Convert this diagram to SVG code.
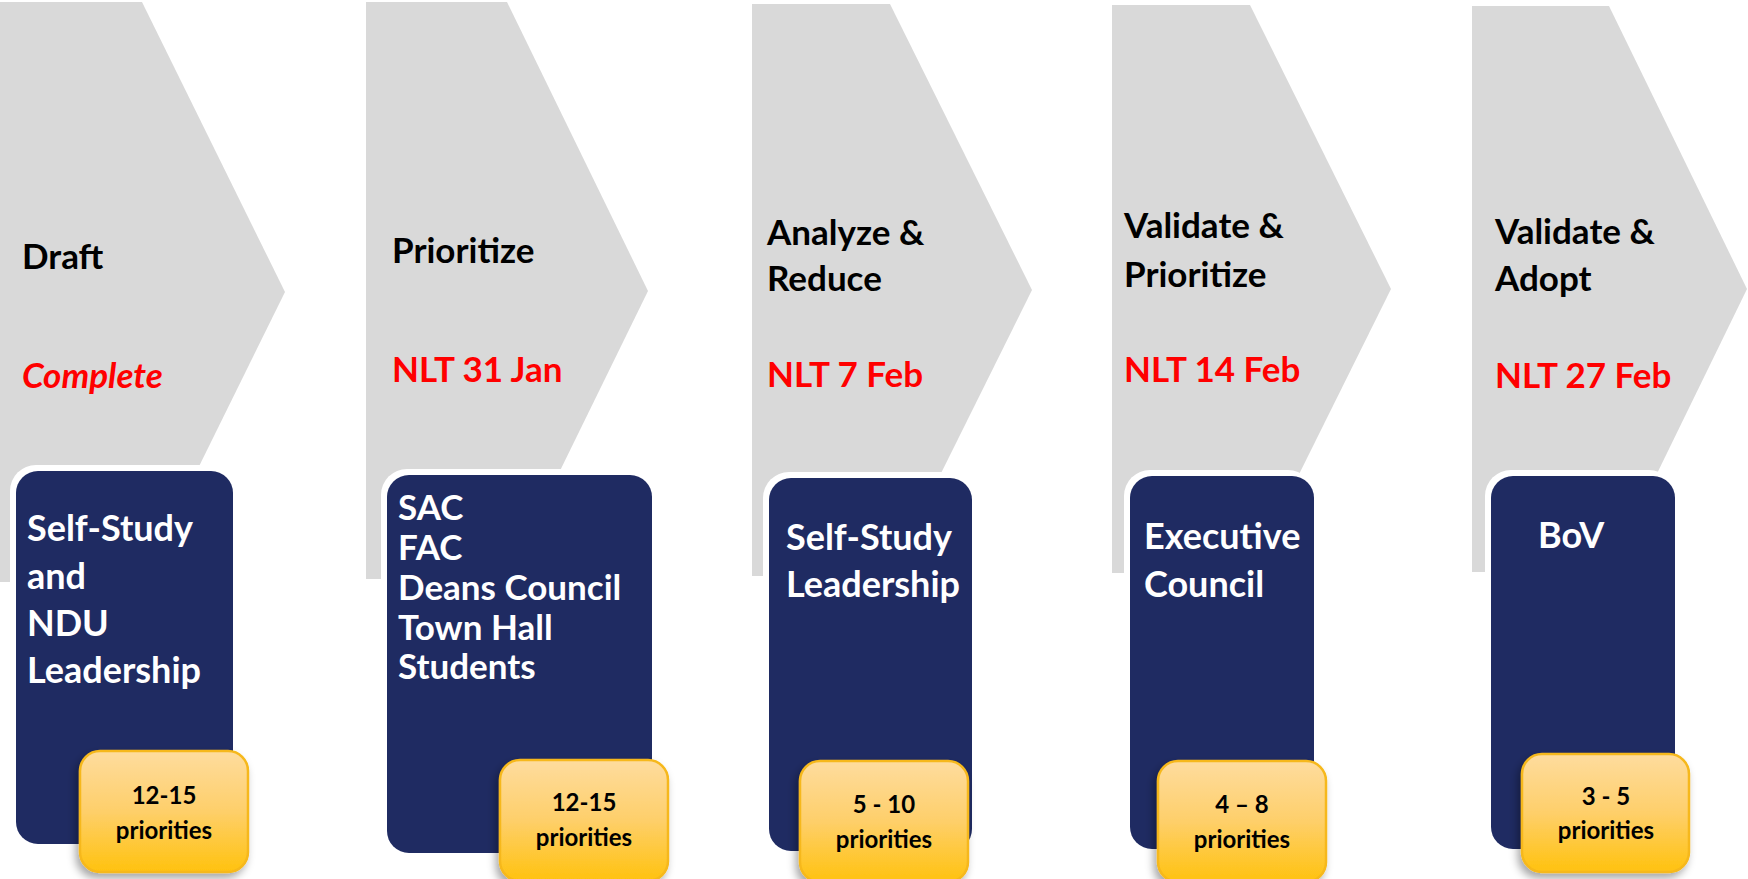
<svg xmlns="http://www.w3.org/2000/svg" width="1748" height="879" viewBox="0 0 1748 879">
<style>
.chev{fill:#d9d9d9}
.halo{fill:#ffffff}
.blue{fill:#1f2b62}
.yel{fill:url(#yg);stroke:#f6b81a;stroke-width:2.5;filter:url(#sh)}
.h{font-family:Lato,"Open Sans",sans-serif;font-weight:700;font-size:35px;fill:#000}
.d{font-family:Lato,"Open Sans",sans-serif;font-weight:700;font-size:35px;fill:#ff0000}
.w{font-family:Lato,"Open Sans",sans-serif;font-weight:700;font-size:36px;fill:#ffffff}
.w2{font-family:Lato,"Open Sans",sans-serif;font-weight:700;font-size:35px;fill:#ffffff}
.y{font-family:Lato,"Open Sans",sans-serif;font-weight:700;font-size:24px;fill:#000;text-anchor:middle}
</style>
<defs>
<linearGradient id="yg" x1="0" y1="0" x2="0" y2="1">
<stop offset="0" stop-color="#fedc9e"/>
<stop offset="0.5" stop-color="#fecf6a"/>
<stop offset="1" stop-color="#ffc20e"/>
</linearGradient>
<filter id="sh" x="-20%" y="-20%" width="140%" height="150%">
<feDropShadow dx="-3" dy="5" stdDeviation="4" flood-color="#000" flood-opacity="0.35"/>
</filter>
</defs>
<rect width="1748" height="879" fill="#ffffff"/>
<g id="connectors"/>
<g id="phase1">
<polygon class="chev" points="0,2 142,2 285,292 142,582 0,582"/>
<rect class="halo" x="10" y="465" width="223" height="379" rx="26"/>
<rect class="blue" x="16" y="471" width="217" height="373" rx="22"/>
<text class="h" x="22" y="269">Draft</text>
<text class="d" x="22" y="388" font-style="italic">Complete</text>
<text class="w" x="27" y="541">Self-Study</text>
<text class="w" x="27" y="589">and</text>
<text class="w" x="27" y="636">NDU</text>
<text class="w" x="27" y="683">Leadership</text>
<rect class="yel" x="80" y="751" width="168" height="121" rx="20"/>
<text class="y" x="164" y="804">12-15</text>
<text class="y" x="164" y="839">priorities</text>
</g>
<g id="phase2">
<polygon class="chev" points="366,2 507,2 648,291 507,579 366,579"/>
<rect class="halo" x="381" y="469" width="271" height="384" rx="26"/>
<rect class="blue" x="387" y="475" width="265" height="378" rx="22"/>
<text class="h" x="392" y="263">Prioritize</text>
<text class="d" x="392" y="382">NLT 31 Jan</text>
<text class="w2" x="398" y="520">SAC</text>
<text class="w2" x="398" y="560">FAC</text>
<text class="w2" x="398" y="600">Deans Council</text>
<text class="w2" x="398" y="640">Town Hall</text>
<text class="w2" x="398" y="679">Students</text>
<rect class="yel" x="500" y="760" width="168" height="121" rx="20"/>
<text class="y" x="584" y="811">12-15</text>
<text class="y" x="584" y="846">priorities</text>
</g>
<g id="phase3">
<polygon class="chev" points="752,4 890,4 1032,290 890,576 752,576"/>
<rect class="halo" x="763" y="472" width="209" height="379" rx="26"/>
<rect class="blue" x="769" y="478" width="203" height="373" rx="22"/>
<text class="h" x="767" y="245">Analyze &amp;</text>
<text class="h" x="767" y="291">Reduce</text>
<text class="d" x="767" y="387">NLT 7 Feb</text>
<text class="w" x="786" y="550">Self-Study</text>
<text class="w" x="786" y="597">Leadership</text>
<rect class="yel" x="800" y="761" width="168" height="121" rx="20"/>
<text class="y" x="884" y="813">5 - 10</text>
<text class="y" x="884" y="848">priorities</text>
</g>
<g id="phase4">
<polygon class="chev" points="1112,5 1250,5 1391,289 1250,573 1112,573"/>
<rect class="halo" x="1124" y="470" width="190" height="379" rx="26"/>
<rect class="blue" x="1130" y="476" width="184" height="373" rx="22"/>
<text class="h" x="1124" y="238">Validate &amp;</text>
<text class="h" x="1124" y="287">Prioritize</text>
<text class="d" x="1124" y="382">NLT 14 Feb</text>
<text class="w" x="1144" y="549">Executive</text>
<text class="w" x="1144" y="597">Council</text>
<rect class="yel" x="1158" y="761" width="168" height="121" rx="20"/>
<text class="y" x="1242" y="813">4 – 8</text>
<text class="y" x="1242" y="848">priorities</text>
</g>
<g id="phase5">
<polygon class="chev" points="1472,6 1609,6 1747,289 1609,572 1472,572"/>
<rect class="halo" x="1485" y="470" width="190" height="379" rx="26"/>
<rect class="blue" x="1491" y="476" width="184" height="373" rx="22"/>
<text class="h" x="1495" y="244">Validate &amp;</text>
<text class="h" x="1495" y="291">Adopt</text>
<text class="d" x="1495" y="388">NLT 27 Feb</text>
<text class="w" x="1538" y="548">BoV</text>
<rect class="yel" x="1522" y="754" width="167" height="118" rx="20"/>
<text class="y" x="1606" y="805">3 - 5</text>
<text class="y" x="1606" y="839">priorities</text>
</g>
</svg>
